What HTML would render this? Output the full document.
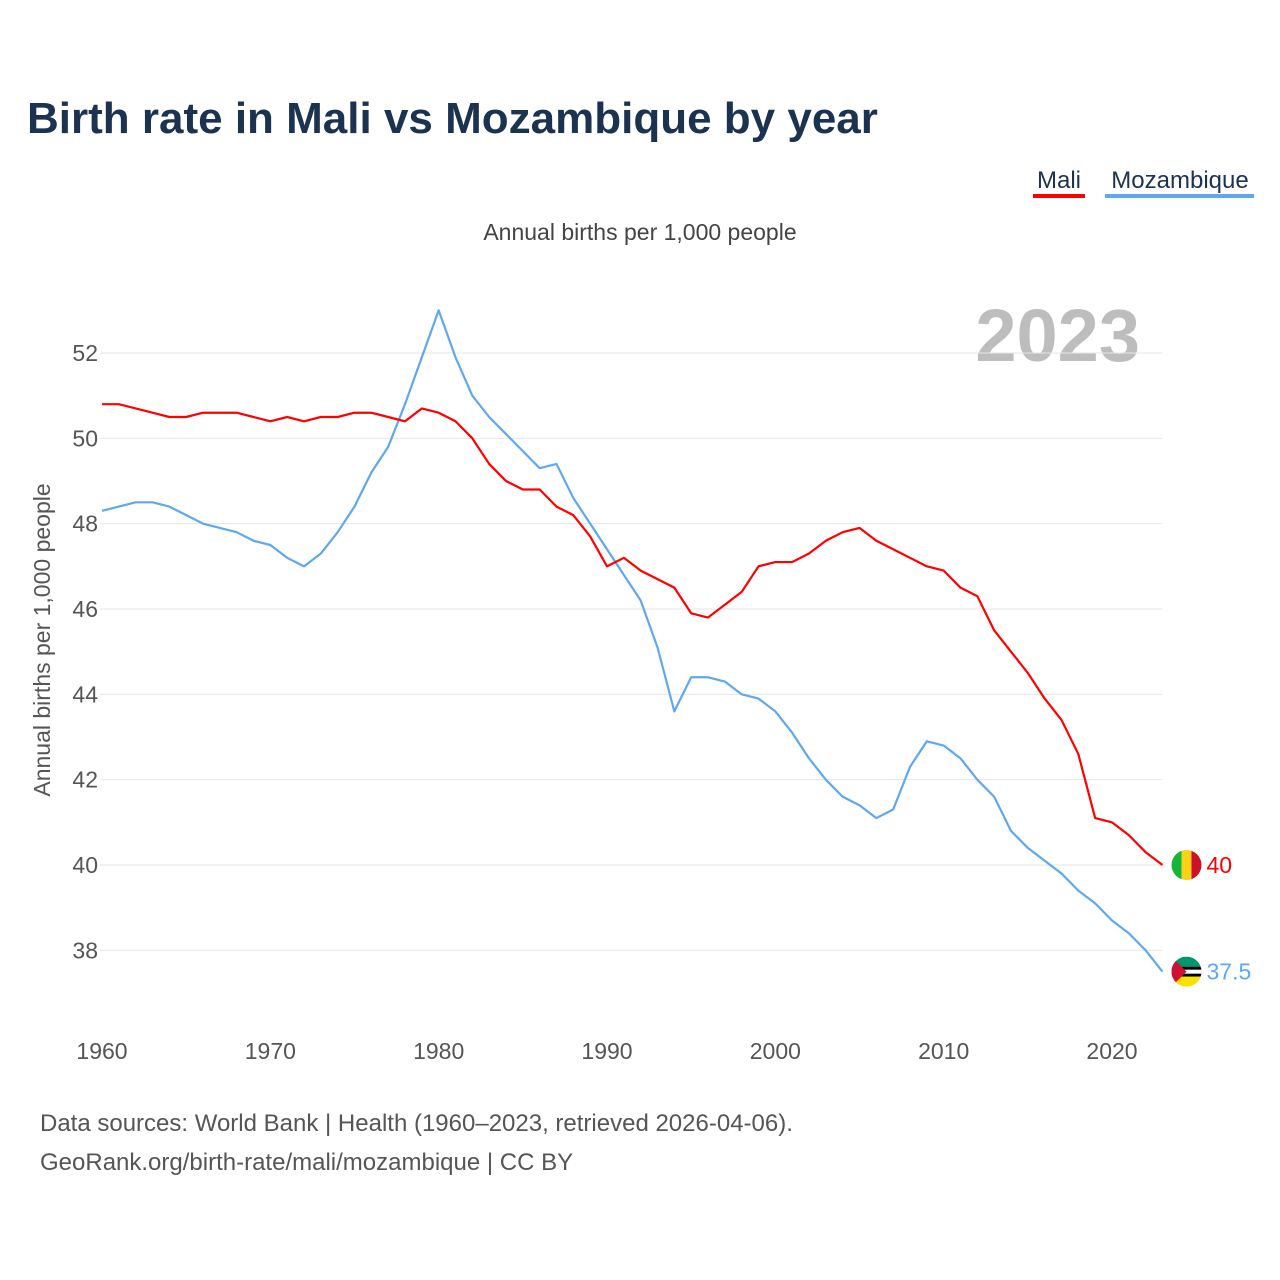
<!DOCTYPE html>
<html><head><meta charset="utf-8"><style>
body{margin:0;background:#fff;font-family:"Liberation Sans",sans-serif}
svg{display:block}
</style></head><body>
<svg id="c" width="1280" height="1280">
<text x="27" y="133" font-size="44" font-weight="bold" fill="#1b3250">Birth rate in Mali vs Mozambique by year</text>
<g><text x="1059" y="188" font-size="24" fill="#1b3250" text-anchor="middle">Mali</text><rect x="1033" y="194" width="52" height="4" fill="#f00"/></g>
<g><text x="1180" y="188" font-size="24" fill="#1b3250" text-anchor="middle">Mozambique</text><rect x="1105" y="194" width="149" height="4" fill="#5fa8ee"/></g>
<text x="640" y="240" font-size="23" fill="#444" text-anchor="middle">Annual births per 1,000 people</text>
<text x="1140" y="361" font-size="74" font-weight="bold" fill="#bdbdbd" text-anchor="end">2023</text>
<text transform="translate(50,640) rotate(-90)" font-size="23" fill="#555" text-anchor="middle">Annual births per 1,000 people</text>
<g id="grid"></g><g id="lines"></g>
<text x="40" y="1131" font-size="24" fill="#555">Data sources: World Bank | Health (1960–2023, retrieved 2026-04-06).</text>
<text x="40" y="1170" font-size="24" fill="#555">GeoRank.org/birth-rate/mali/mozambique | CC BY</text>
</svg>
<script>
const years=[];for(let y=1960;y<=2023;y++)years.push(y);
const mali=[50.8,50.8,50.7,50.6,50.5,50.5,50.6,50.6,50.6,50.5,50.4,50.5,50.4,50.5,50.5,50.6,50.6,50.5,50.4,50.7,50.6,50.4,50.0,49.4,49.0,48.8,48.8,48.4,48.2,47.7,47.0,47.2,46.9,46.7,46.5,45.9,45.8,46.1,46.4,47.0,47.1,47.1,47.3,47.6,47.8,47.9,47.6,47.4,47.2,47.0,46.9,46.5,46.3,45.5,45.0,44.5,43.9,43.4,42.6,41.1,41.0,40.7,40.3,40.0];
const moz=[48.3,48.4,48.5,48.5,48.4,48.2,48.0,47.9,47.8,47.6,47.5,47.2,47.0,47.3,47.8,48.4,49.2,49.8,50.8,51.9,53.0,51.9,51.0,50.5,50.1,49.7,49.3,49.4,48.6,48.0,47.4,46.8,46.2,45.1,43.6,44.4,44.4,44.3,44.0,43.9,43.6,43.1,42.5,42.0,41.6,41.4,41.1,41.3,42.3,42.9,42.8,42.5,42.0,41.6,40.8,40.4,40.1,39.8,39.4,39.1,38.7,38.4,38.0,37.5];
const yTicks=[38,40,42,44,46,48,50,52];
const xTicks=[1960,1970,1980,1990,2000,2010,2020];
const X=y=>102+(y-1960)*(1010/60);
const Y=v=>865-(v-40)*(512/12);
const NS="http://www.w3.org/2000/svg";
const g=document.getElementById('grid'),L=document.getElementById('lines');
function mk(t,a,p){const e=document.createElementNS(NS,t);for(const k in a)e.setAttribute(k,a[k]);p.appendChild(e);return e;}
yTicks.forEach(v=>{
 const l=mk('line',{x1:100,x2:1162,y1:Y(v),y2:Y(v),stroke:'#e6e6e6','stroke-width':1},g);
 
 
 const t=mk('text',{x:98,y:Y(v)+8,'font-size':23,fill:'#555','text-anchor':'end'},g);t.textContent=v;
 
 
});
xTicks.forEach(v=>{
 const t=mk('text',{x:X(v),y:1059,'font-size':23,fill:'#555','text-anchor':'middle'},g);t.textContent=v;
 
 
});
function line(data,color,name){
 const p=mk('polyline',{points:data.map((v,i)=>X(years[i])+','+Y(v)).join(' '),fill:'none',stroke:color,'stroke-width':2.2,'stroke-linejoin':'round'},L);
 
 
}
line(moz,'#5fa8ee','mozambique-line');
line(mali,'#f00','mali-line');
const xe=X(2023)+24;
// Mali flag
const fm=mk('g',{},L);


const ym=Y(mali[63]);
mk('clipPath',{id:'c1'},fm).appendChild(document.createElementNS(NS,'circle')).setAttribute('r',15);
const c1=fm.querySelector('circle');c1.setAttribute('cx',xe);c1.setAttribute('cy',ym);
mk('rect',{x:xe-15,y:ym-15,width:10,height:30,fill:'#14b53a','clip-path':'url(#c1)'},fm);
mk('rect',{x:xe-5,y:ym-15,width:10,height:30,fill:'#fcd116','clip-path':'url(#c1)'},fm);
mk('rect',{x:xe+5,y:ym-15,width:10,height:30,fill:'#ce1126','clip-path':'url(#c1)'},fm);
const tm=mk('text',{x:xe+20,y:ym+8,'font-size':23,fill:'#f00'},L);tm.textContent=mali[63];


// Mozambique flag
const fz=mk('g',{},L);


const yz=Y(moz[63]);
const cp=mk('clipPath',{id:'c2'},fz);mk('circle',{cx:xe,cy:yz,r:15},cp);
mk('rect',{x:xe-15,y:yz-15,width:30,height:10,fill:'#00966e','clip-path':'url(#c2)'},fz);
mk('rect',{x:xe-15,y:yz-5,width:30,height:10,fill:'#000','clip-path':'url(#c2)'},fz);
mk('rect',{x:xe-15,y:yz-2,width:30,height:4,fill:'#fff','clip-path':'url(#c2)'},fz);
mk('rect',{x:xe-15,y:yz+5,width:30,height:10,fill:'#fce100','clip-path':'url(#c2)'},fz);
mk('polygon',{points:`${xe-15},${yz-15} ${xe},${yz} ${xe-15},${yz+15}`,fill:'#d21034','clip-path':'url(#c2)'},fz);
const tz=mk('text',{x:xe+20,y:yz+8,'font-size':23,fill:'#5fa8ee'},L);tz.textContent=moz[63];


</script>
</body></html>
